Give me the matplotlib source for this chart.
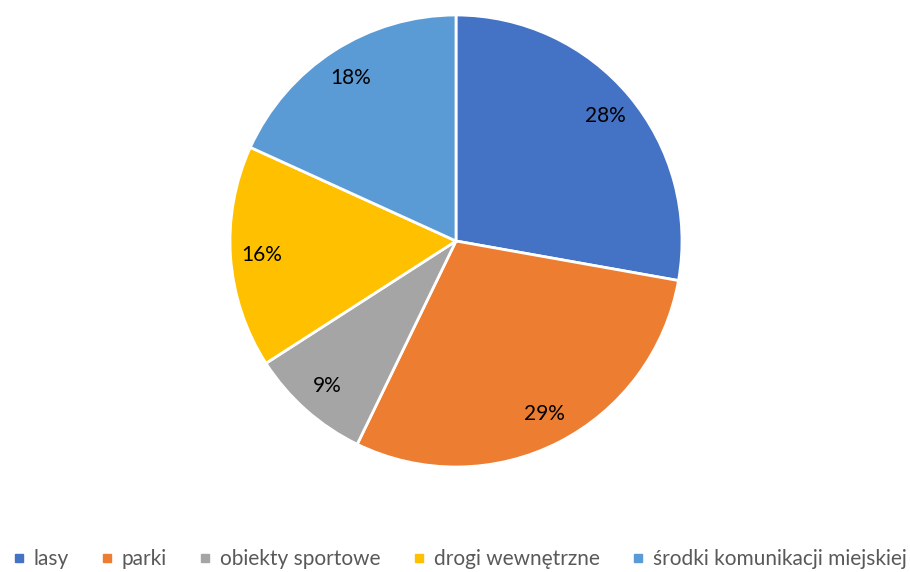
import matplotlib.pyplot as plt
from matplotlib.lines import Line2D

categories = ["lasy", "parki", "obiekty sportowe", "drogi wewnętrzne", "środki komunikacji miejskiej"]
values = [27.8, 29.4, 8.7, 15.9, 18.2]
colors = ["#4472C4", "#ED7D31", "#A5A5A5", "#FFC000", "#5B9BD5"]

plt.rcParams["font.family"] = ["Lato", "DejaVu Sans"]

fig = plt.figure(figsize=(9.1, 5.72), dpi=100)
# oś koła: środek (456, 241) px, promień ~226 px
ax = fig.add_axes([230 / 910, 105 / 572, 452 / 910, 452 / 572])

wedges, texts, autotexts = ax.pie(
    values, colors=colors, startangle=90, counterclock=False,
    autopct="%1.0f%%", pctdistance=0.86,
    wedgeprops=dict(edgecolor="white", linewidth=2),
    textprops=dict(fontsize=15, color="#000000"),
)
ax.set_xlim(-1, 1)
ax.set_ylim(-1, 1)
ax.set_aspect("equal")

handles = [Line2D([0], [0], marker="s", linestyle="", markersize=6,
                  markerfacecolor=c, markeredgecolor=c) for c in colors]
fig.legend(handles, categories, loc="lower center", bbox_to_anchor=(0.505, -0.028),
           ncol=5, frameon=False, fontsize=15, handlelength=0.6,
           handletextpad=0.4, columnspacing=1.55, labelcolor="#595959")

fig.savefig("out.png", dpi=100)
